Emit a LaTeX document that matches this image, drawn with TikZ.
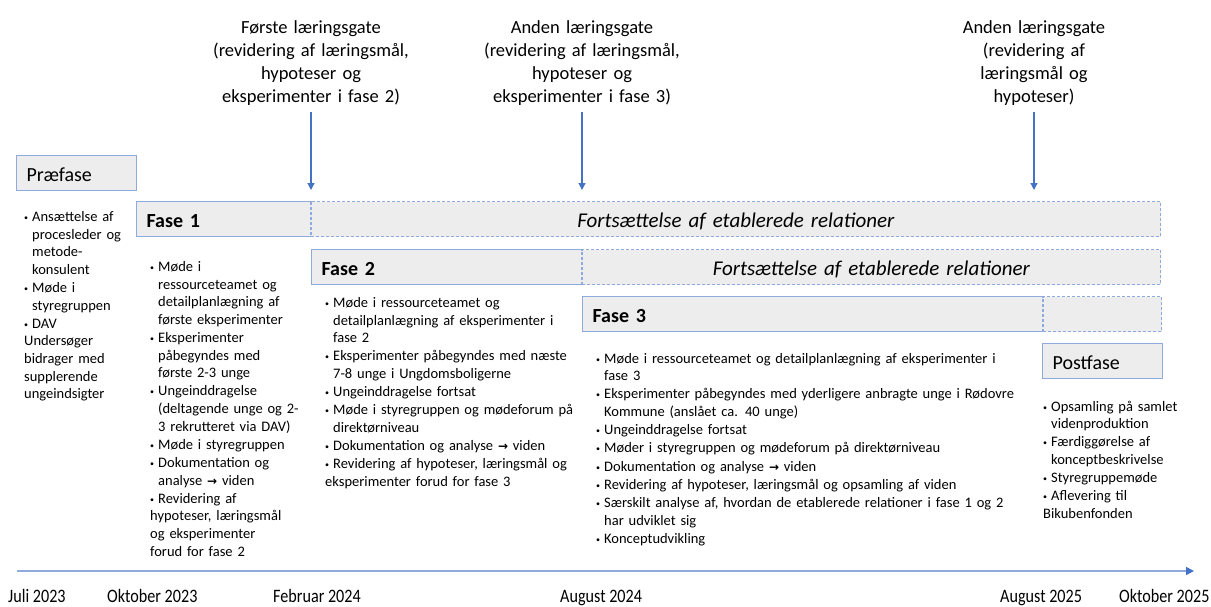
\documentclass[tikz,border=0pt]{standalone}
\usepackage{fontspec}
\setmainfont{Carlito}
\newfontfamily\symfont{DejaVu Sans}
\usetikzlibrary{arrows.meta}
\definecolor{bxfill}{RGB}{237,237,237}
\definecolor{bxline}{RGB}{143,170,220}
\definecolor{arrblue}{RGB}{68,114,196}
\newlength\bulind
\setlength\bulind{8pt}
\newcommand\bul{\makebox[\bulind][l]{\raisebox{1pt}{\fontsize{8}{8}\selectfont •}}}
\newcommand\fitm[1]{\parskip=0.6pt\relax\hangindent=\bulind\hangafter=1\bul#1}
\newcommand\itm[1]{\par\parskip=0.6pt\relax\hangindent=\bulind\hangafter=1\noindent\bul#1}
\newcommand\ar{{\symfont\bfseries\fontsize{12}{12}\selectfont →}}
\newcommand\listfont{\fontsize{14.5}{17.6}\selectfont}
\tikzset{
  solidbox/.style={draw=bxline, fill=bxfill, line width=1.2pt, inner ysep=0pt, inner xsep=10pt,
    anchor=north west, font=\fontsize{20}{24}\selectfont, text height=17pt, text depth=0pt,
    minimum height=35pt, align=left},
  dashbox/.style={solidbox, dash pattern=on 3pt off 2pt, font=\fontsize{21}{24}\selectfont\itshape, align=center},
  listtext/.style={anchor=base west, inner sep=0pt, text width=520pt, align=left, font=\listfont},
  gatelabel/.style={anchor=base, inner sep=0pt, text width=240pt, align=center, font=\fontsize{18.5}{23}\selectfont},
  gatearrow/.style={draw=arrblue, line width=1.2pt, -{Triangle[length=7pt,width=7pt]}, shorten <=6pt},
  axis/.style={draw=bxline, line width=1.6pt, -{Triangle[length=8pt,width=8pt,color=arrblue]}},
  datelabel/.style={anchor=base west, inner sep=0pt, font=\fontsize{19}{22}\selectfont}
}
\begin{document}
\begin{tikzpicture}[x=1pt,y=-1pt]
\useasboundingbox (0,0) rectangle (1211,606);

% gate labels and arrows
\node[gatelabel] (g1) at (311,33.5) {Første læringsgate\\(revidering af læringsmål,\\hypoteser og\\eksperimenter i fase 2)};
\node[gatelabel] (g2) at (582,33.5) {Anden læringsgate\\(revidering af læringsmål,\\hypoteser og\\eksperimenter i fase 3)};
\node[gatelabel] (g3) at (1034,33.5) {Anden læringsgate\\(revidering af\\læringsmål og\\hypoteser)};
\coordinate (t1) at (311,190);
\coordinate (t2) at (582,190);
\coordinate (t3) at (1034,190);
\draw[gatearrow] (g1.south) -- (t1);
\draw[gatearrow] (g2.south) -- (t2);
\draw[gatearrow] (g3.south) -- (t3);

% phase boxes
\node[solidbox, minimum width=120pt, text width=100pt] (pre) at (16,155) {Præfase};
\node[solidbox, minimum width=175pt, text width=155pt] (f1) at (136,201) {\textbf{Fase 1}};
\node[dashbox, minimum width=849.6pt, text width=829.6pt] (c1) at (310.4,201) {Fortsættelse af etablerede relationer};
\node[solidbox, minimum width=271pt, text width=251pt] (f2) at (311,249) {\textbf{Fase 2}};
\node[dashbox, minimum width=578.6pt, text width=558.6pt] (c2) at (581.4,249) {Fortsættelse af etablerede relationer};
\node[solidbox, minimum width=461pt, text width=441pt] (f3) at (582,296) {\textbf{Fase 3}};
\node[dashbox, minimum width=118.6pt, text width=98.6pt] (c3) at (1042.4,296) {};
\node[solidbox, minimum width=120pt, text width=100pt] (post) at (1042,343) {Postfase};

% lists
\node[listtext] (lpre) at (24,221.5) {%
\fitm{Ansættelse af\newline procesleder og\newline metode-\newline konsulent}
\itm{Møde i\newline styregruppen}
\itm{DAV\newline Undersøger\newline bidrager med\newline supplerende\newline ungeindsigter}};

\node[listtext] (lf1) at (150,271.5) {%
\fitm{Møde i\newline ressourceteamet og\newline detailplanlægning af\newline første eksperimenter}
\itm{Eksperimenter\newline påbegyndes med\newline første 2-3 unge}
\itm{Ungeinddragelse\newline (deltagende unge og 2-\newline 3 rekrutteret via DAV)}
\itm{Møde i styregruppen}
\itm{Dokumentation og\newline analyse \ar{} viden}
\itm{Revidering af\newline hypoteser, læringsmål\newline og eksperimenter\newline forud for fase 2}};

\node[listtext] (lf2) at (325,307.5) {%
\fitm{Møde i ressourceteamet og\newline detailplanlægning af eksperimenter i\newline fase 2}
\itm{Eksperimenter påbegyndes med næste\newline 7-8 unge i Ungdomsboligerne}
\itm{Ungeinddragelse fortsat}
\itm{Møde i styregruppen og mødeforum på\newline direktørniveau}
\itm{Dokumentation og analyse \ar{} viden}
\itm{Revidering af hypoteser, læringsmål og\newline eksperimenter forud for fase 3}};

\node[listtext] (lf3) at (596,363) {%
\fitm{Møde i ressourceteamet og detailplanlægning af eksperimenter i\newline fase 3}
\itm{Eksperimenter påbegyndes med yderligere anbragte unge i Rødovre\newline Kommune (anslået ca. 40 unge)}
\itm{Ungeinddragelse fortsat}
\itm{Møder i styregruppen og mødeforum på direktørniveau}
\itm{Dokumentation og analyse \ar{} viden}
\itm{Revidering af hypoteser, læringsmål og opsamling af viden}
\itm{Særskilt analyse af, hvordan de etablerede relationer i fase 1 og 2\newline har udviklet sig}
\itm{Konceptudvikling}};

\node[listtext] (lpost) at (1043,411) {%
\fitm{Opsamling på samlet\newline videnproduktion}
\itm{Færdiggørelse af\newline konceptbeskrivelse}
\itm{Styregruppemøde}
\itm{Aflevering til\newline Bikubenfonden}};

% time axis
\coordinate (ax0) at (17,571);
\coordinate (ax1) at (1194,571);
\draw[axis] (ax0) -- (ax1);
\node[datelabel] (d1) at (8,602) {\scalebox{0.85}[1]{Juli 2023}};
\node[datelabel] (d2) at (107,602) {\scalebox{0.85}[1]{Oktober 2023}};
\node[datelabel] (d3) at (273,602) {\scalebox{0.85}[1]{Februar 2024}};
\node[datelabel] (d4) at (560,602) {\scalebox{0.85}[1]{August 2024}};
\node[datelabel] (d5) at (1000,602) {\scalebox{0.85}[1]{August 2025}};
\node[datelabel] (d6) at (1119,602) {\scalebox{0.85}[1]{Oktober 2025}};
\end{tikzpicture}
\end{document}
